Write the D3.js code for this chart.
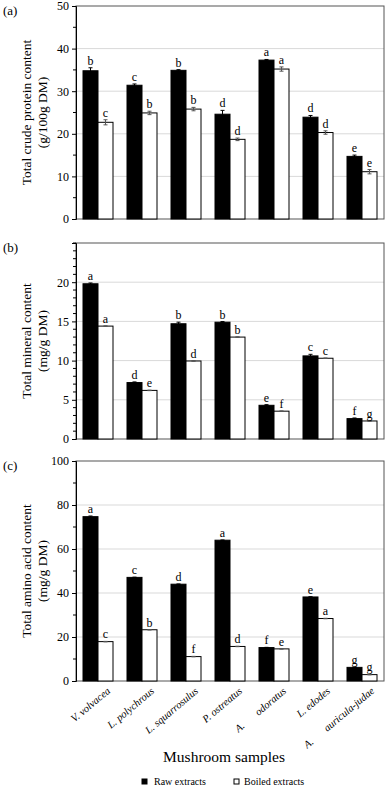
<!DOCTYPE html>
<html>
<head>
<meta charset="utf-8">
<script src="https://cdn.jsdelivr.net/npm/d3@7"></script>
<style>
  html, body { margin: 0; padding: 0; background: #fff; }
  svg { display: block; font-family: "Liberation Serif", "Times New Roman", serif; }
</style>
</head>
<body>
<svg id="chart" width="387" height="787"></svg>
<script>
// ---------------- DATA ----------------
const categories = ["V. volvacea", "L. polychrous", "L. squarrosulus", "P. ostreatus", "A. odoratus", "L. edodes", "A. auricula-judae"];
const seriesNames = ["Raw extracts", "Boiled extracts"];

const proteinRaw = [34.8, 31.4, 34.9, 24.6, 37.3, 23.9, 14.7];
const proteinRawErr = [0.7, 0.3, 0.15, 0.9, 0.15, 0.4, 0.3];
const proteinBoiled = [22.7, 24.9, 25.8, 18.7, 35.2, 20.3, 11.1];
const proteinBoiledErr = [0.6, 0.4, 0.4, 0.3, 0.5, 0.4, 0.5];
const proteinRawLetters = ["b", "c", "b", "d", "a", "d", "e"];
const proteinBoiledLetters = ["c", "b", "b", "d", "a", "d", "e"];

const mineralRaw = [19.8, 7.2, 14.7, 14.9, 4.3, 10.6, 2.6];
const mineralRawErr = [0.1, 0.08, 0.2, 0.08, 0.08, 0.2, 0.08];
const mineralBoiled = [14.4, 6.2, 9.95, 13.0, 3.55, 10.3, 2.3];
const mineralBoiledErr = [0.03, 0.03, 0.03, 0.03, 0.03, 0.03, 0.03];
const mineralRawLetters = ["a", "d", "b", "b", "e", "c", "f"];
const mineralBoiledLetters = ["a", "e", "d", "b", "f", "c", "g"];

const aminoRaw = [74.7, 47.1, 44.0, 64.0, 15.2, 38.2, 6.2];
const aminoRawErr = [0.3, 0.1, 0.1, 0.1, 0.1, 0.1, 0.1];
const aminoBoiled = [17.9, 23.3, 11.1, 15.7, 14.6, 28.4, 2.9];
const aminoBoiledErr = [0.1, 0.1, 0.1, 0.1, 0.1, 0.1, 0.1];
const aminoRawLetters = ["a", "c", "d", "a", "f", "e", "g"];
const aminoBoiledLetters = ["c", "b", "f", "d", "e", "a", "g"];

const proteinTicks = [0, 10, 20, 30, 40, 50];
const mineralTicks = [0, 5, 10, 15, 20];
const aminoTicks = [0, 20, 40, 60, 80, 100];

// ---------------- LAYOUT ----------------
const svg = d3.select("#chart");
const left = 76, right = 384;

const panels = [
  { tag: "(a)", top: 6, bottom: 219, max: 50, ticks: proteinTicks, minorStep: 5,
    title: ["Total crude protein content", "(g/100g DM)"],
    raw: proteinRaw, rawErr: proteinRawErr, boiled: proteinBoiled, boiledErr: proteinBoiledErr,
    rawL: proteinRawLetters, boiledL: proteinBoiledLetters },
  { tag: "(b)", top: 243, bottom: 439, max: 25, ticks: mineralTicks, minorStep: 1,
    title: ["Total mineral content", "(mg/g DM)"],
    raw: mineralRaw, rawErr: mineralRawErr, boiled: mineralBoiled, boiledErr: mineralBoiledErr,
    rawL: mineralRawLetters, boiledL: mineralBoiledLetters },
  { tag: "(c)", top: 461, bottom: 681, max: 100, ticks: aminoTicks, minorStep: 10,
    title: ["Total amino acid content", "(mg/g DM)"],
    raw: aminoRaw, rawErr: aminoRawErr, boiled: aminoBoiled, boiledErr: aminoBoiledErr,
    rawL: aminoRawLetters, boiledL: aminoBoiledLetters }
];

const x = d3.scaleBand().domain(categories).range([left, right]).paddingInner(0).paddingOuter(0);
const sub = d3.scaleBand().domain(seriesNames).range([x.bandwidth() / 2 - 15, x.bandwidth() / 2 + 15]);

panels.forEach(p => {
  const y = d3.scaleLinear().domain([0, p.max]).range([p.bottom, p.top]);
  const g = svg.append("g");

  // gridlines
  g.selectAll("line.grid").data(p.ticks.filter(t => t > 0 && t < p.max)).enter()
    .append("line").attr("class", "grid")
    .attr("x1", left).attr("x2", right)
    .attr("y1", d => y(d)).attr("y2", d => y(d))
    .attr("stroke", "#d9d9d9").attr("stroke-width", 1);

  // frame
  g.append("rect").attr("x", left).attr("y", p.top)
    .attr("width", right - left).attr("height", p.bottom - p.top)
    .attr("fill", "none").attr("stroke", "#555").attr("stroke-width", 1);

  // bars
  const groups = g.selectAll("g.cat").data(categories).enter().append("g")
    .attr("transform", d => `translate(${x(d)},0)`);

  const drawSeries = (vals, errs, letters, name, fill) => {
    groups.append("rect")
      .attr("x", sub(name))
      .attr("y", (d, i) => y(vals[i]))
      .attr("width", sub.bandwidth())
      .attr("height", (d, i) => y(0) - y(vals[i]))
      .attr("fill", fill).attr("stroke", "#000").attr("stroke-width", 1);
    const cx = sub(name) + sub.bandwidth() / 2;
    const errColor = fill === "#000" ? "#000" : "#555";
    groups.append("line")
      .attr("x1", cx).attr("x2", cx)
      .attr("y1", (d, i) => y(vals[i] - errs[i])).attr("y2", (d, i) => y(vals[i] + errs[i]))
      .attr("stroke", errColor).attr("stroke-width", 1);
    [1, -1].forEach(s => {
      groups.append("line")
        .attr("x1", cx - 2).attr("x2", cx + 2)
        .attr("y1", (d, i) => y(vals[i] + s * errs[i])).attr("y2", (d, i) => y(vals[i] + s * errs[i]))
        .attr("stroke", errColor).attr("stroke-width", 1);
    });
    groups.append("text")
      .attr("x", cx)
      .attr("y", (d, i) => y(vals[i] + errs[i]) - 3)
      .attr("text-anchor", "middle")
      .attr("font-size", 12).attr("fill", "#000")
      .text((d, i) => letters[i]);
  };
  drawSeries(p.raw, p.rawErr, p.rawL, seriesNames[0], "#000");
  drawSeries(p.boiled, p.boiledErr, p.boiledL, seriesNames[1], "#fff");

  // y axis
  const axis = d3.axisLeft(y).tickValues(p.ticks).tickSize(4).tickPadding(3).tickFormat(d3.format("d"));
  const ag = g.append("g").attr("transform", `translate(${left},0)`).call(axis);
  ag.attr("font-family", null);
  ag.select(".domain").attr("stroke", "#000");
  ag.selectAll(".tick line").attr("stroke", "#000");
  ag.selectAll(".tick text").attr("font-size", 12).attr("fill", "#000");
  const minor = d3.range(0, p.max + 0.001, p.minorStep).filter(v => !p.ticks.includes(v));
  g.selectAll("line.minor").data(minor).enter().append("line")
    .attr("x1", left - 3).attr("x2", left)
    .attr("y1", d => y(d)).attr("y2", d => y(d))
    .attr("stroke", "#000").attr("stroke-width", 1);

  // panel tag
  g.append("text").attr("x", 3).attr("y", p.top + 9)
    .attr("font-size", 13).text(p.tag);

  // y title
  const cy = (p.top + p.bottom) / 2;
  p.title.forEach((t, i) => {
    g.append("text")
      .attr("transform", `translate(${31 + i * 16},${cy}) rotate(-90)`)
      .attr("text-anchor", "middle")
      .attr("font-size", 13.5).text(t);
  });

  // x labels on the last panel only
  if (p.tag === "(c)") {
    const lab = g.selectAll("text.xl").data(categories).enter().append("text")
      .attr("class", "xl")
      .attr("transform", d => `translate(${x(d) + x.bandwidth() / 2 + 13},${p.bottom + 11}) rotate(-40)`)
      .attr("text-anchor", "end")
      .attr("font-size", 10.5).attr("font-style", "italic");
    lab.each(function (d) {
      const el = d3.select(this);
      if (d.startsWith("A. ")) {
        el.append("tspan").text("A.");
        el.append("tspan").attr("dx", 17).text(d.slice(3));
      } else {
        el.text(d);
      }
    });
  }
});

// x title
svg.append("text").attr("x", 224).attr("y", 762).attr("text-anchor", "middle")
  .attr("font-size", 15.5).text("Mushroom samples");

// legend
const legX = [142, 234];
const legTextX = [154, 244];
seriesNames.forEach((n, i) => {
  svg.append("rect").attr("x", legX[i]).attr("y", 779).attr("width", 5).attr("height", 5)
    .attr("fill", i === 0 ? "#000" : "#fff").attr("stroke", "#000").attr("stroke-width", 1);
  svg.append("text").attr("x", legTextX[i]).attr("y", 785).attr("font-size", 10).text(n);
});
</script>
</body>
</html>
